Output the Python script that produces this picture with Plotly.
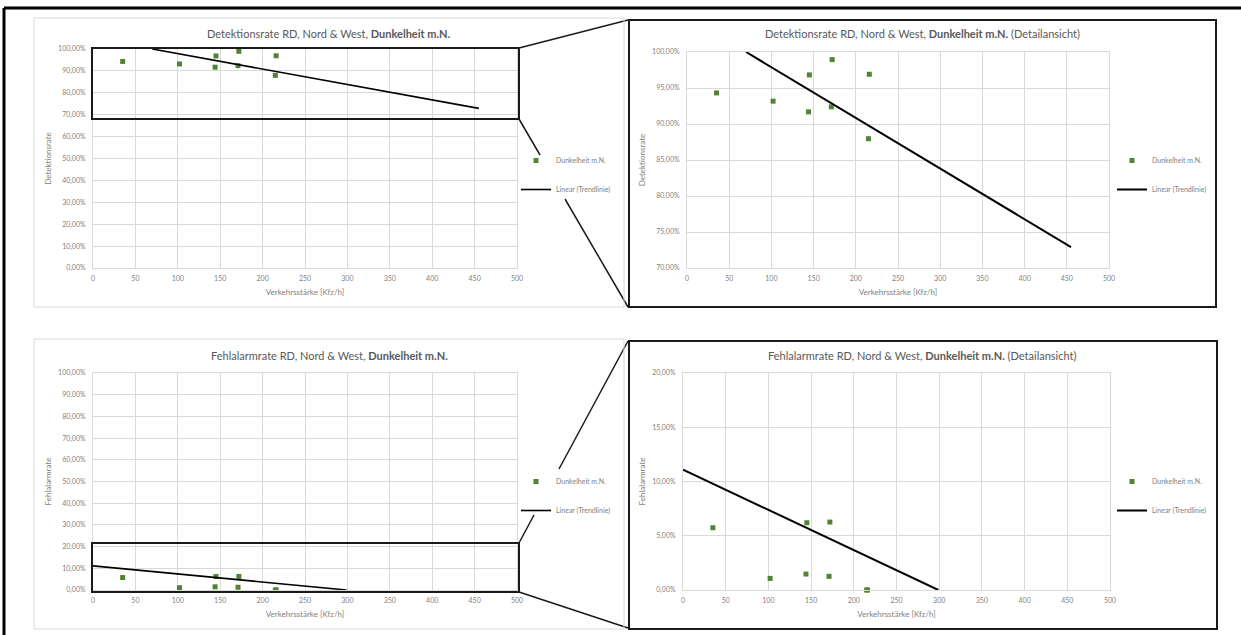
import plotly.graph_objects as go

# ---------------- data ----------------
x_kfz = [35, 102, 145, 144, 172, 171, 216, 215]
det_rate = [0.9432, 0.9317, 0.9682, 0.9169, 0.9894, 0.9239, 0.9691, 0.8796]
fa_rate = [0.0574, 0.0107, 0.0620, 0.0147, 0.0626, 0.0126, 0.0, 0.0]

det_trend_x = [70, 455]
det_trend_y = [1.0, 0.729]
fa_trend_x = [0, 299]
fa_trend_y = [0.111, 0.0]

x_ticks = [0, 50, 100, 150, 200, 250, 300, 350, 400, 450, 500]
series_name = "Dunkelheit m.N."
trend_name = "Linear (Trendlinie)"
titles = [
    "Detektionsrate RD, Nord &amp; West, <b>Dunkelheit m.N.</b>",
    "Detektionsrate RD, Nord &amp; West, <b>Dunkelheit m.N.</b> (Detailansicht)",
    "Fehlalarmrate RD, Nord &amp; West, <b>Dunkelheit m.N.</b>",
    "Fehlalarmrate RD, Nord &amp; West, <b>Dunkelheit m.N.</b> (Detailansicht)",
]
x_title = "Verkehrsstärke [Kfz/h]"
y_titles = ["Detektionsrate", "Detektionsrate", "Fehlalarmrate", "Fehlalarmrate"]

# ---------------- layout helpers ----------------
W, H = 1241, 635
FONT = "Lato, 'Open Sans', sans-serif"
GREEN = "#548235"
GRID = "#d9d9d9"
TICK = "#7f7f7f"
TITLE = "#595959"


def px(x):
    return x / W


def py(y):
    return 1 - y / H


# plot areas in pixels: (left, right, top, bottom)
areas = [
    (93, 517, 49, 268),
    (687, 1109, 52, 268),
    (93, 517, 373, 590),
    (683, 1110, 373, 590),
]
y_ranges = [[0, 1], [0.7, 1], [0, 1], [0, 0.2]]
y_dticks = [0.1, 0.05, 0.1, 0.05]
title_pos = [(329, 34), (922, 33), (329, 355), (922, 355)]
legend_pos = [(516, 146), (1112, 146), (516, 467), (1112, 467)]

fig = go.Figure()

data_sets = [
    (det_rate, det_trend_x, det_trend_y),
    (det_rate, det_trend_x, det_trend_y),
    (fa_rate, fa_trend_x, fa_trend_y),
    (fa_rate, fa_trend_x, fa_trend_y),
]

layout = dict(
    width=W,
    height=H,
    margin=dict(l=0, r=0, t=0, b=0),
    paper_bgcolor="white",
    plot_bgcolor="white",
    separators=",.",
    font=dict(family=FONT, color=TICK, size=7),
    showlegend=True,
)

annotations = []
for i, (l, r, t, b) in enumerate(areas):
    n = "" if i == 0 else str(i + 1)
    xa = "x" + n
    ya = "y" + n
    leg = "legend" + n
    yvals, tx, ty = data_sets[i]
    fig.add_trace(go.Scatter(
        x=x_kfz, y=yvals, mode="markers", name=series_name,
        marker=dict(symbol="square", size=5, color=GREEN),
        xaxis=xa, yaxis=ya, legend=leg, legendgroup="m" + n,
        cliponaxis=False, hoverinfo="skip",
    ))
    fig.add_trace(go.Scatter(
        x=tx, y=ty, mode="lines", name=trend_name,
        line=dict(color="black", width=2 if i % 2 else 1.6),
        xaxis=xa, yaxis=ya, legend=leg, legendgroup="t" + n,
        hoverinfo="skip",
    ))
    layout["xaxis" + n] = dict(
        domain=[px(l), px(r)], anchor=ya, range=[0, 500],
        tickvals=x_ticks, showgrid=True, gridcolor=GRID, gridwidth=1,
        showline=True, linecolor=GRID, mirror=True, zeroline=False,
        ticks="", tickfont=dict(size=7, color=TICK, family=FONT),
        ticklabelstandoff=4,
        title=dict(text=x_title, font=dict(size=8, color=TICK, family=FONT), standoff=7),
        automargin=False, fixedrange=True,
    )
    layout["yaxis" + n] = dict(
        domain=[py(b), py(t)], anchor=xa, range=y_ranges[i], dtick=y_dticks[i],
        tick0=0, tickformat=".2%", showgrid=True, gridcolor=GRID, gridwidth=1,
        showline=True, linecolor=GRID, mirror=True, zeroline=False,
        ticks="", tickfont=dict(size=7, color=TICK, family=FONT),
        ticklabelstandoff=5,
        title=dict(text=y_titles[i], font=dict(size=8, color=TICK, family=FONT), standoff=5),
        automargin=False, fixedrange=True,
    )
    lx, ly = legend_pos[i]
    layout[leg] = dict(
        x=px(lx), y=py(ly), xanchor="left", yanchor="top",
        xref="paper", yref="paper",
        bgcolor="rgba(0,0,0,0)", borderwidth=0, itemwidth=30,
        tracegroupgap=10, traceorder="grouped",
        font=dict(size=7, color=TICK, family=FONT),
    )
    cx, cy = title_pos[i]
    annotations.append(dict(
        text=titles[i], x=px(cx), y=py(cy), xref="paper", yref="paper",
        xanchor="center", yanchor="middle", showarrow=False,
        font=dict(size=11, color=TITLE, family=FONT),
    ))

layout["annotations"] = annotations


def rect(x0, y0, x1, y1, color, width):
    return dict(type="rect", xref="paper", yref="paper",
                x0=px(x0), y0=py(y0), x1=px(x1), y1=py(y1),
                line=dict(color=color, width=width), fillcolor="rgba(0,0,0,0)",
                layer="above")


def line(x0, y0, x1, y1, color="#1a1a1a", width=1.5):
    return dict(type="line", xref="paper", yref="paper",
                x0=px(x0), y0=py(y0), x1=px(x1), y1=py(y1),
                line=dict(color=color, width=width), layer="below")


shapes = [
    # chart boxes of the overview charts
    rect(34, 18, 624, 307, GRID, 1),
    rect(34, 339, 624, 629, GRID, 1),
    # detail frames
    rect(629, 20, 1216, 307, "#1a1a1a", 2),
    rect(629, 341, 1217, 629, "#1a1a1a", 2),
    # zoom rectangles
    rect(92, 48, 519, 119, "#1a1a1a", 2),
    rect(92, 543, 519, 592, "#1a1a1a", 2),
    # connector lines (interrupted by the legend area)
    line(519, 48, 628, 20),
    line(519, 119, 540, 155),
    line(565, 199, 628, 307),
    line(519, 543, 534, 515),
    line(559, 469, 628, 341),
    line(519, 592, 628, 628),
    # outer frame
    dict(type="line", xref="paper", yref="paper", x0=px(4), y0=py(8), x1=1, y1=py(8),
         line=dict(color="black", width=3)),
    dict(type="line", xref="paper", yref="paper", x0=px(4), y0=py(8), x1=px(4), y1=0,
         line=dict(color="black", width=3)),
]
layout["shapes"] = shapes

fig.update_layout(**layout)
fig.write_html(
    "out.html",
    config={"displayModeBar": False},
    post_script="document.body.style.margin='0';document.body.style.overflow='hidden';",
)
